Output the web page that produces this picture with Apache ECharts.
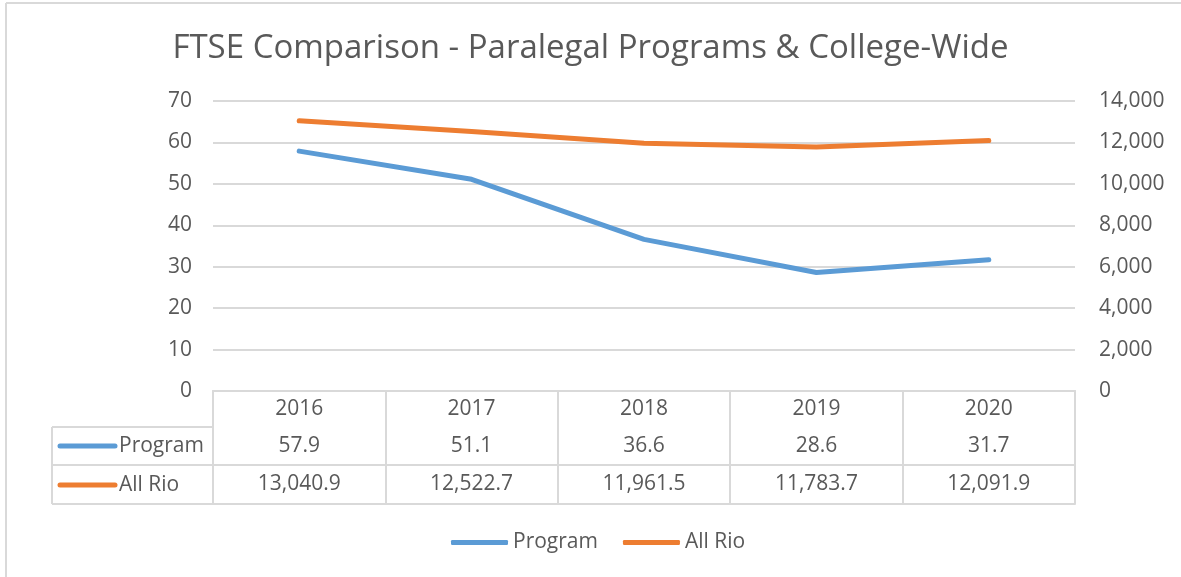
<!DOCTYPE html>
<html>
<head>
<meta charset="utf-8">
<script src="https://cdn.jsdelivr.net/npm/echarts@6/dist/echarts.min.js"></script>
<style>
html,body{margin:0;padding:0;background:#fff;}
#c{width:1181px;height:577px;}
</style>
</head>
<body>
<div id="c"></div>
<script>
const years = ['2016', '2017', '2018', '2019', '2020'];
const program = [57.9, 51.1, 36.6, 28.6, 31.7];
const allRio = [13040.9, 12522.7, 11961.5, 11783.7, 12091.9];
const seriesNames = ['Program', 'All Rio'];

const FONT = '"Open Sans", "Noto Sans", sans-serif';
const FS = 21;
const TXT = '#595959';
const GRID = '#d9d9d9';
const BLUE = '#5B9BD5';
const ORANGE = '#ED7D31';

function fmt(v, d) {
  return v.toLocaleString('en-US', {minimumFractionDigits: d, maximumFractionDigits: d});
}

const chart = echarts.init(document.getElementById('c'), null, {renderer: 'canvas'});

const baseX = {
  type: 'category',
  data: years,
  boundaryGap: true,
  position: 'bottom',
  axisLine: {show: true, lineStyle: {color: GRID, width: 2}},
  axisTick: {show: false},
  splitLine: {show: false},
  axisLabel: {show: false}
};

const option = {
  backgroundColor: '#fff',
  animation: false,
  title: {
    text: 'FTSE Comparison - Paralegal Programs & College-Wide',
    left: 'center',
    top: 27,
    textStyle: {fontFamily: FONT, fontSize: 33, fontWeight: 'normal', color: TXT}
  },
  legend: {
    data: seriesNames,
    left: 446,
    top: 527,
    itemWidth: 57,
    itemHeight: 5,
    itemGap: 25,
    icon: 'roundRect',
    textStyle: {fontFamily: FONT, fontSize: FS, color: TXT}
  },
  grid: {left: 213, right: 106, top: 101, height: 290, containLabel: false},
  xAxis: [
    Object.assign({}, baseX, {
      axisTick: {show: true, length: 113, lineStyle: {color: GRID, width: 2}},
      axisLabel: {show: true, margin: 18, verticalAlign: 'middle', fontFamily: FONT, fontSize: FS, color: TXT}
    }),
    Object.assign({}, baseX, {
      offset: 36,
      axisLabel: {show: true, margin: 19, verticalAlign: 'middle', fontFamily: FONT, fontSize: FS, color: TXT,
        formatter: (v, i) => fmt(program[i], 1)}
    }),
    Object.assign({}, baseX, {
      offset: 74,
      axisLabel: {show: true, margin: 19, verticalAlign: 'middle', fontFamily: FONT, fontSize: FS, color: TXT,
        formatter: (v, i) => fmt(allRio[i], 1)}
    }),
    Object.assign({}, baseX, {offset: 113})
  ],
  yAxis: [
    {
      type: 'value', min: 0, max: 70, interval: 10, position: 'left',
      axisLine: {show: false}, axisTick: {show: false},
      splitLine: {show: true, lineStyle: {color: GRID, width: 2}},
      axisLabel: {margin: 21, fontFamily: FONT, fontSize: FS, color: TXT}
    },
    {
      type: 'value', min: 0, max: 14000, interval: 2000, position: 'right',
      axisLine: {show: false}, axisTick: {show: false},
      splitLine: {show: false},
      axisLabel: {margin: 24, fontFamily: FONT, fontSize: FS, color: TXT,
        formatter: v => fmt(v, 0)}
    }
  ],
  series: [
    {
      name: seriesNames[0], type: 'line', xAxisIndex: 0, yAxisIndex: 0,
      data: program, showSymbol: false, symbol: 'none', color: BLUE,
      lineStyle: {width: 5, color: BLUE, cap: 'round', join: 'round'}
    },
    {
      name: seriesNames[1], type: 'line', xAxisIndex: 0, yAxisIndex: 1,
      data: allRio, showSymbol: false, symbol: 'none', color: ORANGE,
      lineStyle: {width: 5, color: ORANGE, cap: 'round', join: 'round'}
    }
  ],
  graphic: [
    // outer chart border (top and left visible)
    {type: 'line', shape: {x1: 6, y1: 3, x2: 1181, y2: 3}, style: {stroke: GRID, lineWidth: 2}},
    {type: 'line', shape: {x1: 6, y1: 3, x2: 6, y2: 577}, style: {stroke: GRID, lineWidth: 2}},
    // data table left column borders
    {type: 'line', shape: {x1: 52, y1: 427, x2: 213, y2: 427}, style: {stroke: GRID, lineWidth: 2}},
    {type: 'line', shape: {x1: 52, y1: 465, x2: 213, y2: 465}, style: {stroke: GRID, lineWidth: 2}},
    {type: 'line', shape: {x1: 52, y1: 504, x2: 213, y2: 504}, style: {stroke: GRID, lineWidth: 2}},
    {type: 'line', shape: {x1: 52, y1: 427, x2: 52, y2: 504}, style: {stroke: GRID, lineWidth: 2}},
    // legend keys inside table
    {type: 'line', shape: {x1: 60, y1: 446, x2: 115, y2: 446}, style: {stroke: BLUE, lineWidth: 5, lineCap: 'round'}},
    {type: 'line', shape: {x1: 60, y1: 485, x2: 115, y2: 485}, style: {stroke: ORANGE, lineWidth: 5, lineCap: 'round'}},
    {type: 'text', style: {x: 119, y: 446, text: seriesNames[0], font: FS + 'px ' + FONT, fill: TXT, verticalAlign: 'middle'}},
    {type: 'text', style: {x: 119, y: 485, text: seriesNames[1], font: FS + 'px ' + FONT, fill: TXT, verticalAlign: 'middle'}}
  ]
};

chart.setOption(option);
</script>
</body>
</html>
